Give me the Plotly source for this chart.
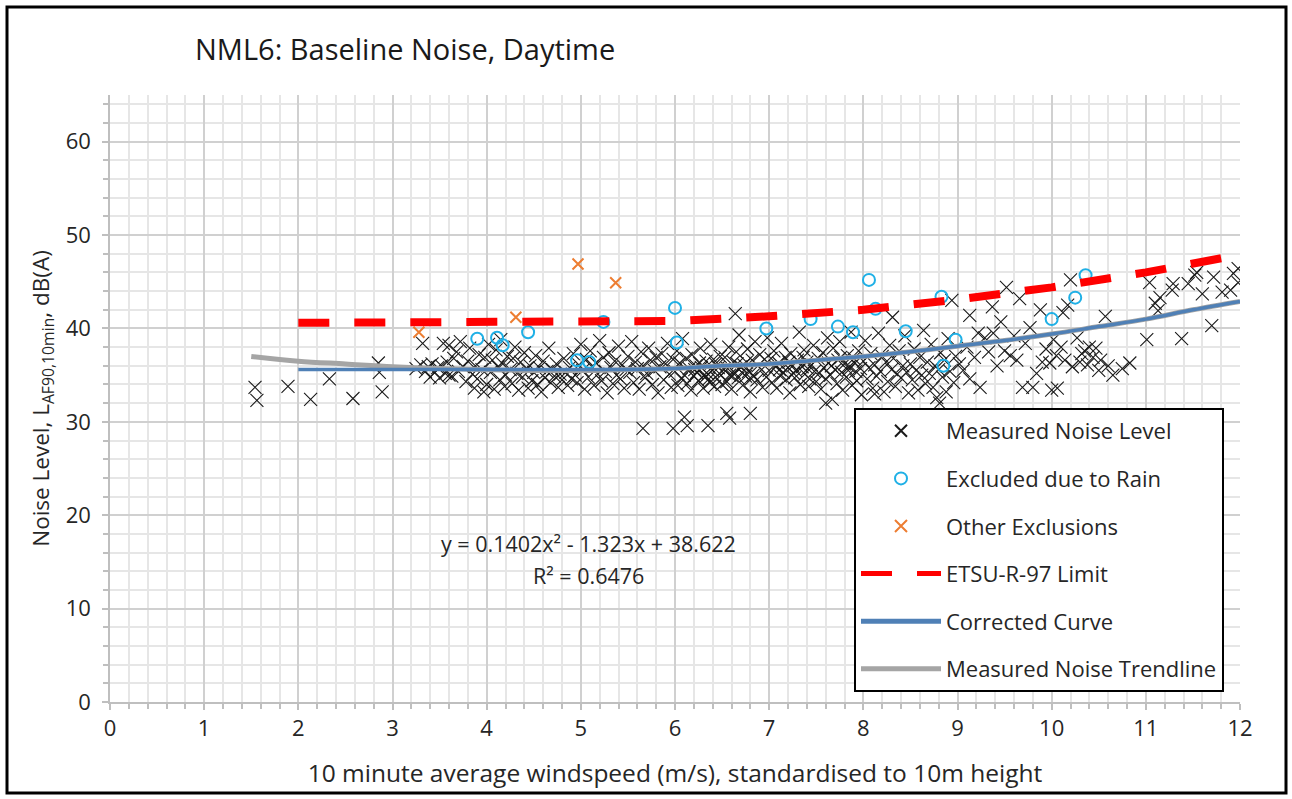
import plotly.graph_objects as go

# ---------------- data ----------------
measured_low = [
    (1.54, 33.7), (1.56, 32.3), (1.89, 33.8), (2.13, 32.4), (2.33, 34.6), (2.58, 32.5),
    (2.89, 33.2), (2.85, 36.3), (2.86, 35.3),
    (3.25, 35.7), (3.30, 36.1), (3.32, 38.4), (3.35, 35.4), (3.38, 35.9), (3.40, 34.8),
    (3.42, 36.2), (3.45, 35.3), (3.48, 35.8), (3.50, 34.7), (3.52, 36.0), (3.54, 38.4),
    (3.56, 35.2), (3.58, 36.4), (3.60, 38.2), (3.60, 35.0),
    (3.63, 34.9), (3.65, 36.8), (3.68, 37.5), (3.70, 35.4), (3.72, 38.6), (3.75, 35.9),
    (3.78, 34.3), (3.80, 36.5), (3.82, 37.9), (3.85, 35.1), (3.87, 33.6), (3.88, 36.0),
    (3.90, 34.6), (3.92, 37.2), (3.95, 35.6), (3.97, 33.2), (3.98, 36.9), (4.00, 34.0),
    (4.02, 38.3), (4.04, 35.3), (4.06, 36.6), (4.08, 33.5), (4.10, 37.7), (4.12, 35.9),
    (4.14, 34.5), (4.15, 38.8), (4.17, 36.2), (4.19, 33.8), (4.20, 35.0), (4.22, 37.0),
    (4.25, 35.6), (4.27, 34.1), (4.28, 36.8), (4.30, 38.0), (4.32, 35.2), (4.34, 33.4),
    (4.36, 36.4), (4.38, 34.8), (4.40, 37.4), (4.42, 35.7), (4.44, 33.6), (4.46, 36.0),
    (4.48, 34.4),
    (4.50, 35.3), (4.52, 37.1), (4.54, 34.0), (4.56, 35.8), (4.58, 33.2), (4.60, 36.5),
    (4.62, 34.7), (4.64, 35.4), (4.66, 37.9), (4.68, 34.2), (4.70, 35.6), (4.72, 34.9),
    (4.74, 36.2), (4.76, 33.7), (4.78, 35.1), (4.80, 34.5), (4.82, 36.8), (4.84, 35.3),
    (4.86, 33.9), (4.88, 35.8), (4.90, 34.6), (4.92, 37.3), (4.94, 35.0), (4.96, 34.2),
    (4.98, 36.1),
]

measured_mid = [
    (5.00, 38.3), (5.02, 35.5), (5.04, 33.5), (5.06, 36.7), (5.08, 34.8), (5.10, 37.6),
    (5.12, 35.9), (5.14, 33.9), (5.16, 36.3), (5.18, 35.1), (5.20, 38.7), (5.22, 34.4),
    (5.24, 36.9), (5.26, 35.4), (5.28, 33.1), (5.30, 37.4), (5.32, 35.8), (5.34, 34.1),
    (5.36, 36.5), (5.38, 35.0), (5.40, 38.1), (5.42, 34.6), (5.44, 36.1), (5.46, 33.6),
    (5.48, 35.6),
    (5.50, 37.0), (5.52, 35.3), (5.54, 38.6), (5.56, 34.2), (5.58, 36.4), (5.60, 35.7),
    (5.62, 33.5), (5.64, 37.5), (5.66, 36.0), (5.68, 34.7), (5.70, 35.2), (5.72, 37.9),
    (5.74, 36.6), (5.76, 34.0), (5.78, 35.5), (5.80, 36.9), (5.82, 33.1), (5.84, 35.9),
    (5.86, 37.3), (5.88, 34.5), (5.90, 36.2), (5.92, 38.4), (5.94, 35.1), (5.96, 33.7),
    (5.98, 36.7), (5.66, 29.3), (5.98, 29.3),
    (6.00, 35.4), (6.02, 37.6), (6.03, 33.9), (6.05, 36.3), (6.07, 34.6), (6.08, 38.9),
    (6.10, 35.0), (6.12, 36.8), (6.13, 34.1), (6.15, 35.7), (6.17, 33.4), (6.18, 37.2),
    (6.20, 34.9), (6.22, 36.0), (6.23, 35.3), (6.25, 34.4), (6.27, 37.9), (6.28, 35.8),
    (6.30, 33.6), (6.32, 34.8), (6.33, 36.5), (6.35, 35.1), (6.37, 34.2), (6.38, 38.3),
    (6.40, 35.5), (6.42, 33.8), (6.43, 36.2), (6.45, 34.6), (6.47, 35.2), (6.48, 37.0),
    (6.50, 34.0), (6.10, 30.5), (6.13, 29.6), (6.35, 29.6),
    (6.21, 35.6), (6.26, 36.3), (6.31, 35.0), (6.36, 34.6), (6.41, 36.7), (6.46, 35.8),
    (6.52, 35.6), (6.53, 36.9), (6.55, 34.3), (6.57, 38.0), (6.58, 35.0), (6.60, 33.5),
    (6.62, 36.4), (6.63, 35.3), (6.65, 37.5), (6.67, 34.7), (6.68, 39.3), (6.70, 35.9),
    (6.72, 33.9), (6.73, 36.1), (6.75, 34.9), (6.77, 37.8), (6.78, 35.4), (6.80, 33.2),
    (6.82, 36.6), (6.83, 35.0), (6.85, 38.6), (6.87, 34.5), (6.88, 36.0), (6.90, 37.2),
    (6.92, 35.6), (6.93, 33.7), (6.95, 36.7), (6.97, 34.8), (6.98, 39.0), (6.55, 30.9),
    (6.58, 30.4), (6.80, 30.9), (6.64, 41.6),
    (6.56, 35.7), (6.61, 34.9), (6.66, 36.2), (6.71, 35.3), (6.76, 36.4), (6.81, 34.6),
]

measured_upper = [
    (7.00, 35.5), (7.02, 36.8), (7.03, 34.2), (7.05, 37.6), (7.07, 35.9), (7.08, 33.6),
    (7.10, 36.3), (7.12, 34.9), (7.13, 38.4), (7.15, 35.3), (7.17, 36.9), (7.18, 34.5),
    (7.20, 35.8), (7.22, 33.1), (7.23, 37.3), (7.25, 36.0), (7.27, 34.7), (7.28, 35.5),
    (7.30, 36.6), (7.32, 39.6), (7.33, 34.0), (7.35, 35.9), (7.37, 37.7), (7.38, 35.1),
    (7.40, 36.4), (7.42, 33.8), (7.43, 34.6), (7.45, 36.1), (7.47, 38.2), (7.48, 35.4),
    (7.50, 34.3), (7.11, 35.6), (7.21, 36.4), (7.26, 35.2), (7.36, 36.9), (7.41, 35.7),
    (7.52, 36.8), (7.53, 35.2), (7.55, 33.5), (7.57, 37.4), (7.58, 35.8), (7.60, 34.6),
    (7.62, 39.0), (7.63, 36.3), (7.65, 35.0), (7.67, 32.4), (7.68, 37.9), (7.70, 35.6),
    (7.72, 34.1), (7.73, 36.6), (7.75, 38.6), (7.77, 35.3), (7.78, 33.4), (7.80, 36.2),
    (7.82, 34.8), (7.83, 37.1), (7.85, 35.9), (7.87, 39.6), (7.88, 33.9), (7.90, 36.8),
    (7.92, 35.4), (7.93, 34.4), (7.95, 37.6), (7.97, 35.7), (7.98, 32.9), (7.60, 32.0),
    (7.66, 36.0), (7.76, 36.9), (7.84, 35.5), (7.91, 36.3),
    (8.00, 36.5), (8.02, 38.7), (8.04, 34.6), (8.06, 35.8), (8.08, 37.3), (8.10, 33.6),
    (8.12, 36.1), (8.14, 34.9), (8.16, 39.5), (8.18, 35.4), (8.20, 37.0), (8.22, 33.2),
    (8.24, 36.4), (8.26, 34.3), (8.28, 38.2), (8.30, 35.6), (8.32, 36.8), (8.34, 33.8),
    (8.36, 35.1), (8.38, 37.6), (8.40, 34.7), (8.42, 36.0), (8.44, 39.2), (8.46, 35.3),
    (8.48, 33.1), (8.12, 33.0), (8.31, 41.2),
    (8.50, 36.2), (8.52, 34.5), (8.54, 37.8), (8.56, 35.5), (8.58, 33.4), (8.60, 36.9),
    (8.62, 35.0), (8.64, 39.8), (8.66, 34.1), (8.68, 36.4), (8.70, 35.2), (8.72, 38.3),
    (8.74, 33.7), (8.76, 36.0), (8.78, 32.6), (8.80, 35.6), (8.81, 32.0), (8.82, 37.4),
    (8.84, 34.8), (8.86, 36.6), (8.88, 33.2), (8.90, 38.9), (8.92, 35.4), (8.94, 43.0),
    (8.96, 34.2), (8.98, 37.0),
]

measured_high = [
    (9.02, 36.2), (9.06, 35.5), (9.10, 38.0), (9.13, 41.4), (9.13, 34.6), (9.18, 36.9),
    (9.22, 39.5), (9.24, 33.7), (9.29, 39.0), (9.33, 37.5), (9.37, 42.3), (9.38, 39.5),
    (9.42, 36.0), (9.46, 40.7), (9.50, 37.6), (9.52, 44.4), (9.56, 37.1), (9.60, 39.2),
    (9.63, 36.6), (9.66, 43.2), (9.69, 33.7), (9.72, 38.4), (9.77, 40.1), (9.80, 33.7),
    (9.84, 35.2), (9.88, 42.0), (9.90, 36.4), (9.94, 37.8), (9.98, 36.3),
    (10.00, 33.4), (10.02, 38.8), (10.05, 37.1), (10.06, 33.6), (10.10, 38.0),
    (10.12, 41.7), (10.14, 36.6), (10.17, 42.5), (10.20, 45.2), (10.22, 35.9),
    (10.27, 39.0), (10.30, 36.4), (10.32, 37.3), (10.35, 37.6), (10.38, 36.1),
    (10.40, 38.0), (10.44, 36.9), (10.47, 37.9), (10.50, 35.5), (10.52, 36.6),
    (10.57, 41.3), (10.60, 36.0), (10.65, 35.0), (10.75, 35.7), (10.83, 36.3),
    (11.01, 38.8), (11.04, 44.9), (11.10, 42.7), (11.13, 41.9), (11.15, 43.3),
    (11.28, 44.1), (11.29, 44.8), (11.38, 38.9), (11.45, 44.8), (11.52, 45.7),
    (11.54, 46.0), (11.60, 43.7), (11.70, 40.3), (11.72, 45.5), (11.81, 43.9),
    (11.90, 44.1), (11.93, 45.9), (11.98, 46.4), (11.98, 44.9),
]

rain_wind = [3.90, 4.11, 4.17, 4.44, 4.96, 5.09, 5.24, 6.00, 6.02, 6.97, 7.44, 7.73,
             7.89, 8.06, 8.13, 8.45, 8.83, 8.85, 8.98, 10.00, 10.25, 10.36]
rain_level = [38.9, 39.0, 38.2, 39.6, 36.6, 36.4, 40.7, 42.2, 38.5, 40.0, 41.0, 40.2,
              39.6, 45.2, 42.1, 39.7, 43.4, 36.0, 38.8, 41.0, 43.3, 45.7]

other_wind = [3.28, 4.31, 4.97, 5.37]
other_level = [39.6, 41.2, 46.9, 44.9]

etsu_wind = [2, 3, 4, 5, 6, 7, 8, 9, 10, 11, 12]
etsu_level = [40.6, 40.6, 40.6, 40.6, 40.8, 41.3, 42.0, 43.1, 44.4, 46.0, 47.9]

corrected_wind = [2, 3, 4, 5, 5.5, 6, 6.5, 7, 7.5, 8, 8.5, 9, 9.5, 10, 10.5, 11, 11.5, 12]
corrected_level = [35.6, 35.6, 35.6, 35.6, 35.6, 35.7, 36.0, 36.2, 36.6, 37.0, 37.5,
                   38.1, 38.7, 39.4, 40.2, 41.0, 42.0, 42.9]

trend_wind = [1.5, 2, 2.5, 3, 3.5, 4, 4.5, 5, 5.5, 6, 6.5, 7, 7.5, 8, 8.5, 9, 9.5,
              10, 10.5, 11, 11.5, 12]
trend_level = [37.0, 36.5, 36.2, 35.9, 35.7, 35.6, 35.5, 35.5, 35.6, 35.7, 36.0, 36.2,
               36.6, 37.0, 37.5, 38.1, 38.7, 39.4, 40.2, 41.0, 42.0, 42.9]

x_ticks = list(range(0, 13))
y_ticks = [0, 10, 20, 30, 40, 50, 60]

title_text = "NML6: Baseline Noise, Daytime"
x_title = "10 minute average windspeed (m/s), standardised to 10m height"
y_title = "Noise Level, L<sub>AF90,10min</sub>, dB(A)"
equation_text = "y = 0.1402x² - 1.323x + 38.622"
r2_text = "R² = 0.6476"

# ---------------- figure ----------------
FONT = "Open Sans"
TXT = "#262626"
measured = measured_low + measured_mid + measured_upper + measured_high
m_wind = [p[0] for p in measured]
m_level = [p[1] for p in measured]

fig = go.Figure()

fig.add_trace(go.Scatter(
    x=m_wind, y=m_level, mode="markers", name="Measured Noise Level",
    marker=dict(symbol="x-thin-open", size=13, color="#1a1a1a",
                line=dict(color="#1a1a1a", width=1.1)),
    legendgroup="a", legendrank=1))

fig.add_trace(go.Scatter(
    x=rain_wind, y=rain_level, mode="markers", name="Excluded due to Rain",
    marker=dict(symbol="circle-open", size=12, color="#1FB0E6",
                line=dict(color="#1FB0E6", width=2)),
    legendgroup="b", legendrank=2))

fig.add_trace(go.Scatter(
    x=other_wind, y=other_level, mode="markers", name="Other Exclusions",
    marker=dict(symbol="x-thin-open", size=11, color="#ED7D31",
                line=dict(color="#ED7D31", width=2)),
    legendgroup="c", legendrank=3))

fig.add_trace(go.Scatter(
    x=trend_wind, y=trend_level, mode="lines", name="Measured Noise Trendline",
    line=dict(color="#A5A5A5", width=5, shape="spline"),
    legendgroup="f", legendrank=6))

fig.add_trace(go.Scatter(
    x=corrected_wind, y=corrected_level, mode="lines", name="Corrected Curve",
    line=dict(color="#4F80B6", width=3.5, shape="spline"),
    legendgroup="e", legendrank=5))

fig.add_trace(go.Scatter(
    x=etsu_wind, y=etsu_level, mode="lines", name="ETSU-R-97 Limit",
    line=dict(color="#FF0000", width=8, dash="31px,25px"),
    legendgroup="d", legendrank=4))

axis_common = dict(
    showline=True, linecolor="#BFBFBF", linewidth=1.5,
    ticks="outside", ticklen=6, tickcolor="#BFBFBF", tickwidth=1.5,
    showgrid=True, gridcolor="#D0D0D0", gridwidth=1.5,
    zeroline=False, mirror=False,
    tickfont=dict(family=FONT, size=22, color=TXT),
)

fig.update_xaxes(
    range=[0, 12], tickmode="array", tickvals=x_ticks,
    ticktext=[str(v) for v in x_ticks],
    minor=dict(dtick=0.2, tick0=0, ticks="outside", ticklen=5, tickcolor="#BFBFBF",
               showgrid=True, gridcolor="#E6E6E6", gridwidth=1.5),
    title=dict(text=x_title, font=dict(family=FONT, size=24.5, color=TXT),
               standoff=24),
    **axis_common)

fig.update_yaxes(
    range=[0, 65], tickmode="array", tickvals=y_ticks,
    ticktext=[str(v) for v in y_ticks],
    minor=dict(dtick=2, tick0=0, ticks="outside", ticklen=5, tickcolor="#BFBFBF",
               showgrid=True, gridcolor="#E6E6E6", gridwidth=1.5),
    title=dict(text=y_title, font=dict(family=FONT, size=22.5, color=TXT),
               standoff=10),
    ticklabelstandoff=7,
    **axis_common)

fig.add_annotation(x=5.08, y=17.0, xref="x", yref="y", text=equation_text,
                   showarrow=False, font=dict(family=FONT, size=21.5, color=TXT))
fig.add_annotation(x=5.08, y=13.6, xref="x", yref="y", text=r2_text,
                   showarrow=False, font=dict(family=FONT, size=21.5, color=TXT))

# outer chart border
fig.add_shape(type="rect", xref="paper", yref="paper",
              x0=(7 - 110) / 1130, x1=(1286 - 110) / 1130,
              y0=(702 - 793) / 607, y1=(702 - 7) / 607,
              line=dict(color="black", width=3), fillcolor="rgba(0,0,0,0)")

fig.update_layout(
    width=1292, height=799,
    margin=dict(l=110, r=52, t=95, b=97),
    paper_bgcolor="white", plot_bgcolor="white",
    font=dict(family=FONT, color=TXT),
    title=dict(text=title_text, x=195 / 1292, xanchor="left", xref="container",
               y=1 - 50 / 799, yanchor="middle",
               font=dict(family=FONT, size=29, color="#1a1a1a")),
    showlegend=True,
    legend=dict(x=(854 - 110) / 1130, y=(702 - 408) / 607, xanchor="left", yanchor="top",
                bgcolor="white", bordercolor="black", borderwidth=2,
                font=dict(family=FONT, size=22, color=TXT),
                traceorder="grouped", tracegroupgap=16, itemwidth=80,
                itemsizing="constant"),
)

fig.write_html("out.html")
